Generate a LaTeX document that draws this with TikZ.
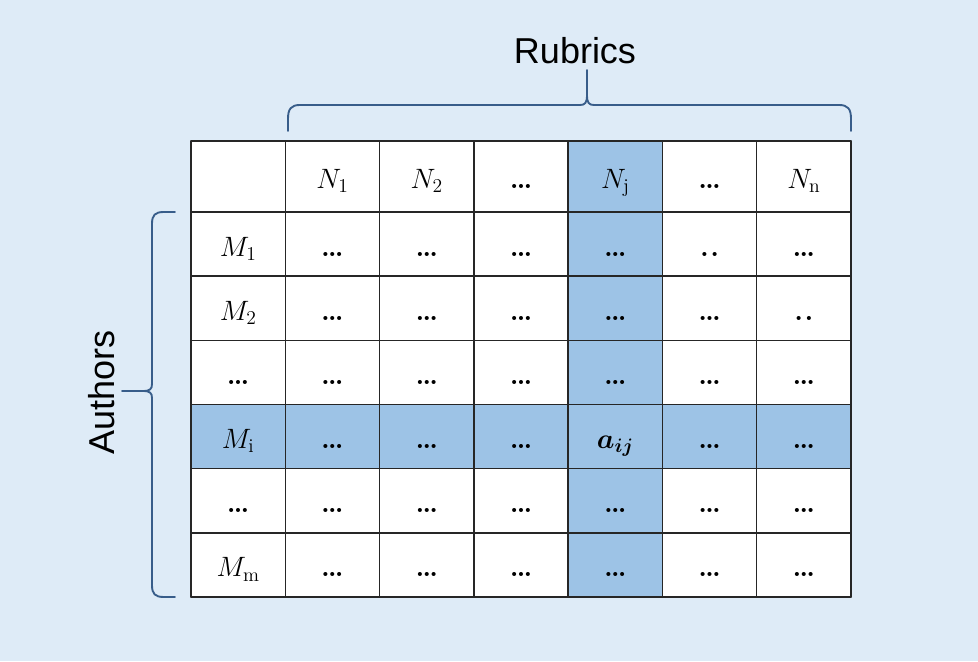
\RequirePackage{fix-cm}
\documentclass[tikz,border=0pt]{standalone}
\usepackage{amsmath}
\usepackage{fontspec}
\newfontfamily\labelfont{Liberation Sans}
\usetikzlibrary{calc}
\definecolor{bgblue}{HTML}{DEEBF7}
\definecolor{cellblue}{HTML}{9DC3E6}
\definecolor{bracecol}{HTML}{385D8A}
\newcommand{\dt}{\textbf{\ldots}}
\newcommand{\twodot}{\textbf{.\kern0.06em.}}
\tikzset{
    gridline/.style={line width=1.1pt, black!85},
    bracestyle/.style={line width=1.4pt, bracecol},
    cell/.style={anchor=base, inner sep=0pt, font=\fontsize{21}{24}\selectfont},
    bigtext/.style={inner sep=0pt, font=\labelfont\fontsize{27}{32}\selectfont}
}
\begin{document}
\begin{tikzpicture}[x=0.75pt, y=0.75pt, line cap=round]
    % 배경
    \fill[bgblue] (0,0) rectangle (978,661);
    \useasboundingbox (0,0) rectangle (978,661);
    \def\cw{94.29}
    \def\rh{64.17}
    \def\dy{12}
    \coordinate (O) at (191, 64);
    \coordinate (T) at (851, 520);

    % 표
    \fill[white] (O) rectangle (T);
    \fill[cellblue] ({191+4*\cw}, 64) rectangle ({191+5*\cw}, 520);
    \fill[cellblue] (191, {64+2*\rh}) rectangle (851, {64+3*\rh});

    \foreach \n in {0, ..., 7}{
        \draw[gridline] ({191+\n*\cw}, 64) -- ({191+\n*\cw}, 520);
    };
    \foreach \n in {0, ..., 6}{
        \draw[gridline] (191, {64+\n*\rh}) -- (851, {64+\n*\rh});
    };
    \draw[gridline] (191, 520) -- (851, 520);

    % 칸 안의 글
    \foreach \t [count=\c from 0] in {{}, $N_1$, $N_2$, \dt, $N_\mathrm{j}$, \dt, $N_\mathrm{n}$}{
        \node[cell] (h\c) at ({191+(\c+0.5)*\cw}, {484.5-\dy}) {\t};
    };
    \foreach \t [count=\c from 0] in {$M_1$, \dt, \dt, \dt, \dt, \twodot, \dt}{
        \node[cell] (r5c\c) at ({191+(\c+0.5)*\cw}, {64+5.5*\rh-\dy}) {\t};
    };
    \foreach \t [count=\c from 0] in {$M_2$, \dt, \dt, \dt, \dt, \dt, \twodot}{
        \node[cell] (r4c\c) at ({191+(\c+0.5)*\cw}, {64+4.5*\rh-\dy}) {\t};
    };
    \foreach \c in {0, ..., 6}{
        \node[cell] (r3c\c) at ({191+(\c+0.5)*\cw}, {64+3.5*\rh-\dy}) {\dt};
    };
    \foreach \t [count=\c from 0] in {$M_\mathrm{i}$, \dt, \dt, \dt, $\boldsymbol{a_{ij}}$, \dt, \dt}{
        \node[cell] (r2c\c) at ({191+(\c+0.5)*\cw}, {64+2.5*\rh-\dy}) {\t};
    };
    \foreach \c in {0, ..., 6}{
        \node[cell] (r1c\c) at ({191+(\c+0.5)*\cw}, {64+1.5*\rh-\dy}) {\dt};
    };
    \foreach \t [count=\c from 0] in {$M_\mathrm{m}$, \dt, \dt, \dt, \dt, \dt, \dt}{
        \node[cell] (r0c\c) at ({191+(\c+0.5)*\cw}, {64+0.5*\rh-\dy}) {\t};
    };

    % 위쪽 괄호
    \coordinate (TL) at (288, 530);
    \coordinate (TR) at (851, 530);
    \coordinate (TC) at (587, 591);
    \draw[bracestyle] (TL) -- (288, 542) .. controls (288, 552) and (291, 556) .. (300, 556)
        -- (580, 556) .. controls (585, 556) and (587, 558) .. (587, 566) -- (TC);
    \draw[bracestyle] (587, 566) .. controls (587, 558) and (589, 556) .. (594, 556)
        -- (839, 556) .. controls (848, 556) and (851, 552) .. (851, 542) -- (TR);
    \node[bigtext, anchor=base] (rubrics) at (575, 597) {Rubrics};

    % 왼쪽 괄호
    \coordinate (LT) at (175, 449);
    \coordinate (LB) at (175, 64);
    \coordinate (LC) at (122, 270);
    \draw[bracestyle] (LT) -- (164, 449) .. controls (155, 449) and (152, 446) .. (152, 437)
        -- (152, 277) .. controls (152, 272) and (150, 270) .. (143, 270) -- (LC);
    \draw[bracestyle] (143, 270) .. controls (150, 270) and (152, 268) .. (152, 263)
        -- (152, 76) .. controls (152, 67) and (155, 64) .. (164, 64) -- (LB);
    \node[bigtext, anchor=base, rotate=90] (authors) at (114, 268.5) {Authors};
\end{tikzpicture}
\end{document}
